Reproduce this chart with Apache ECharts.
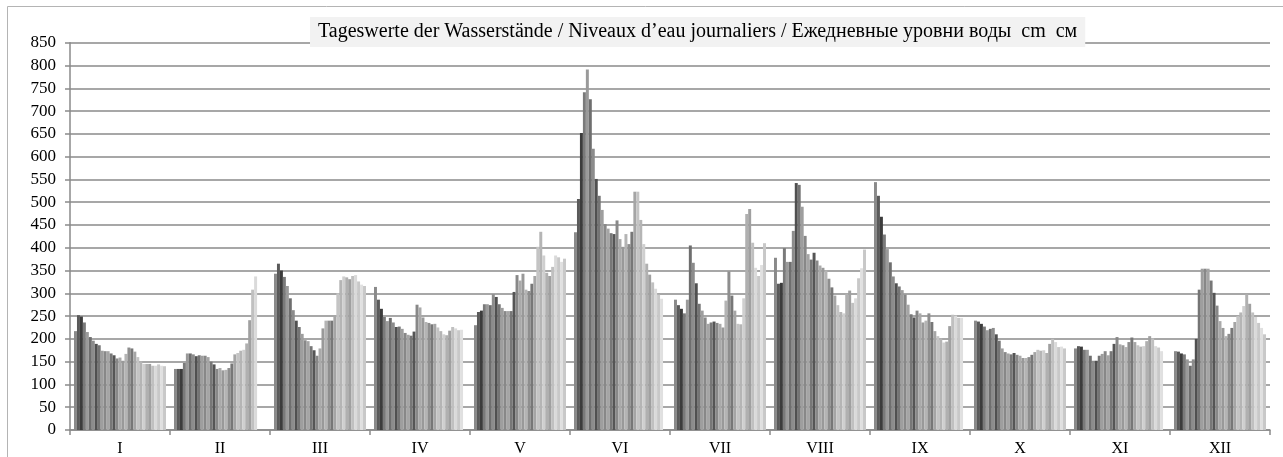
<!DOCTYPE html>
<html>
<head>
<meta charset="utf-8">
<script src="https://cdn.jsdelivr.net/npm/echarts@6/dist/echarts.min.js"></script>
<style>
html,body{margin:0;padding:0;background:#fff;}
#c{width:1283px;height:457px;}
</style>
</head>
<body>
<div id="c"></div>
<script>
const titleText = 'Tageswerte der Wasserstände / Niveaux d\u2019eau journaliers / Ежедневные уровни воды  cm  см';
const months = ['I','II','III','IV','V','VI','VII','VIII','IX','X','XI','XII'];
const yTicks = [0,50,100,150,200,250,300,350,400,450,500,550,600,650,700,750,800,850];

const m01 = [217,252,249,236,215,204,196,189,186,174,173,173,168,164,157,159,152,167,181,179,172,160,151,145,145,145,141,141,144,141,140];
const m02 = [134,134,134,147,168,168,166,162,164,163,163,160,150,144,134,136,131,132,136,146,166,169,174,176,190,241,308,337];
const m03 = [343,365,350,336,316,289,263,240,226,211,197,195,184,175,163,179,223,240,240,240,248,300,329,337,335,331,338,340,326,319,316];
const m04 = [314,286,266,248,239,246,236,226,227,222,213,209,207,216,275,269,247,237,235,232,233,225,217,210,208,218,226,223,219,220];
const m05 = [230,259,262,276,276,274,298,292,276,268,261,261,261,303,340,328,343,308,305,321,338,402,435,383,345,338,358,383,379,369,376];
const m06 = [434,507,652,741,791,726,617,551,514,483,452,442,432,430,460,419,402,430,408,435,523,523,461,408,365,341,324,310,297,288];
const m07 = [286,274,266,256,286,405,367,322,277,262,247,233,236,238,235,233,225,284,348,295,262,233,232,289,474,485,411,356,338,362,410];
const m08 = [378,321,323,399,369,369,437,542,538,490,426,386,374,389,372,361,356,350,332,313,295,274,259,256,299,306,279,289,333,355,396];
const m09 = [544,514,468,429,397,368,337,322,315,307,297,275,254,247,262,256,236,240,256,237,217,206,201,192,194,228,253,251,246,246];
const m10 = [240,238,233,227,219,222,224,210,196,179,171,168,166,169,165,163,158,158,160,165,171,176,174,175,169,189,200,193,182,183,179];
const m11 = [179,184,183,176,176,163,152,152,163,167,173,164,173,189,204,188,186,182,193,203,193,186,183,184,195,206,201,184,181,173];
const m12 = [173,172,168,166,155,141,155,200,308,354,354,354,328,301,273,239,224,206,211,224,237,250,258,272,298,277,258,248,235,224,210];

const dayColors = ['#8a8a8a','#5a5a5a','#3c3c3c','#7a7a7a','#9a9a9a','#6e6e6e','#8c8c8c','#505050','#747474','#9e9e9e',
  '#888888','#a5a5a5','#777777','#555555','#888888','#aaaaaa','#999999','#b4b4b4','#8e8e8e','#777777',
  '#a5a5a5','#c4c4c4','#b5b5b5','#cfcfcf','#b0b0b0','#a0a0a0','#c0c0c0','#dadada','#c8c8c8','#e0e0e0','#c8c8c8'];

const monthData = [m01,m02,m03,m04,m05,m06,m07,m08,m09,m10,m11,m12];
const series = [];
for (let d = 0; d < 31; d++) {
  series.push({
    name: 'Tag ' + (d + 1),
    type: 'bar',
    barGap: '0%',
    barCategoryGap: '8%',
    itemStyle: { color: dayColors[d] },
    data: monthData.map(m => (d < m.length ? m[d] : null))
  });
}

const FONT = '"Liberation Serif", "Times New Roman", serif';
const chart = echarts.init(document.getElementById('c'), null, { renderer: 'canvas' });
chart.setOption({
  animation: false,
  backgroundColor: '#ffffff',
  textStyle: { fontFamily: FONT },
  title: {
    text: titleText,
    left: 310,
    top: 17,
    backgroundColor: '#f2f2f2',
    padding: [5, 8, 5, 8],
    textStyle: { fontFamily: FONT, fontSize: 20, fontWeight: 'normal', color: '#000' }
  },
  graphic: [{
    type: 'rect',
    shape: { x: 7.5, y: 6.5, width: 1300, height: 500 },
    style: { fill: 'none', stroke: '#b4b4b4', lineWidth: 1 },
    silent: true, z: -1
  }],
  grid: { left: 70, right: 13, top: 42.7, bottom: 26, containLabel: false },
  xAxis: {
    type: 'category',
    data: months,
    axisLine: { lineStyle: { color: '#8a8a8a', width: 1.5 } },
    axisTick: { show: true, length: 5, lineStyle: { color: '#8a8a8a', width: 1.5 } },
    axisLabel: { fontFamily: FONT, fontSize: 16, color: '#000', margin: 11 },
    splitLine: { show: false }
  },
  yAxis: {
    type: 'value',
    min: 0, max: 850, interval: 50,
    axisLine: { show: true, lineStyle: { color: '#8a8a8a', width: 1.5 } },
    axisTick: { show: true, length: 5, lineStyle: { color: '#8a8a8a', width: 1.5 } },
    axisLabel: { fontFamily: FONT, fontSize: 17, color: '#000', margin: 14,
      formatter: v => (yTicks.indexOf(v) >= 0 ? String(v) : '') },
    splitLine: { show: true, lineStyle: { color: '#8a8a8a', width: 1.5 } }
  },
  series: series
});
</script>
</body>
</html>
